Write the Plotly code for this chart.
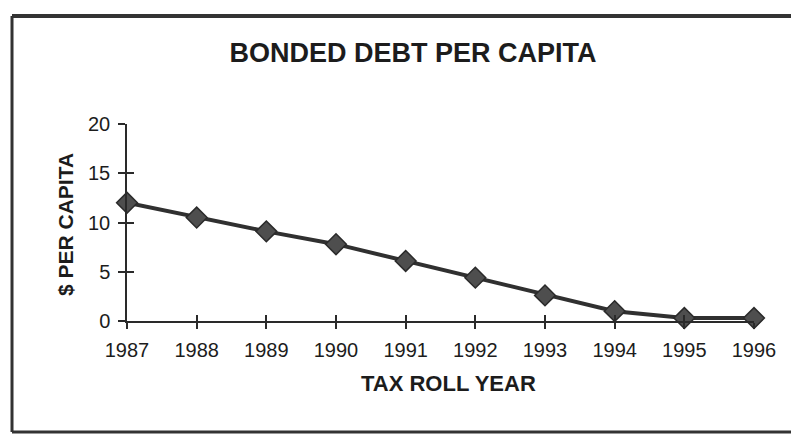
import plotly.graph_objects as go

years = [1987, 1988, 1989, 1990, 1991, 1992, 1993, 1994, 1995, 1996]
debt_per_capita = [12.0, 10.5, 9.1, 7.8, 6.1, 4.4, 2.6, 1.0, 0.3, 0.3]
y_ticks = [0, 5, 10, 15, 20]

title_text = "BONDED DEBT PER CAPITA"
x_title = "TAX ROLL YEAR"
y_title = "$ PER CAPITA"

FONT = "Liberation Sans, Arial, sans-serif"
INK = "#1c1c1c"
AX = "#2a2a2a"

fig = go.Figure()
fig.add_trace(go.Scatter(
    x=years, y=debt_per_capita, mode="lines+markers",
    line=dict(color="#303030", width=4),
    marker=dict(symbol="diamond", size=16, color="#4e4e4e",
                line=dict(color="#2a2a2a", width=1.5)),
    cliponaxis=False, showlegend=False,
))
# invisible trace so that the overlay axes (inner half of crossing ticks) are drawn
fig.add_trace(go.Scatter(
    x=[years[0]], y=[y_ticks[0]], xaxis="x2", yaxis="y2", mode="markers",
    marker=dict(opacity=0), hoverinfo="skip", showlegend=False,
))

common_x = dict(range=[1987, 1996], tickmode="array", tickvals=years,
                showgrid=False, zeroline=False)
common_y = dict(range=[0, 20], tickmode="array", tickvals=y_ticks,
                showgrid=False, zeroline=False)

fig.update_layout(
    width=799, height=436,
    margin=dict(l=119, r=53, t=116, b=123),
    paper_bgcolor="white", plot_bgcolor="white",
    font=dict(family=FONT, color=INK),
    title=dict(text="<b>" + title_text + "</b>", x=0.507, xanchor="center",
               y=0.897, yanchor="middle", yref="container",
               font=dict(size=27, family=FONT, color=INK)),
    xaxis=dict(
        **common_x,
        ticktext=[str(y) for y in years],
        showline=True, linecolor=AX, linewidth=1.5,
        ticks="outside", ticklen=6, tickwidth=1.5, tickcolor=AX,
        ticklabelstandoff=4,
        tickfont=dict(size=20, family=FONT, color=INK),
    ),
    xaxis2=dict(
        **common_x, overlaying="x", anchor="y2", side="bottom",
        showticklabels=False, showline=False,
        ticks="inside", ticklen=6, tickwidth=1.5, tickcolor=AX,
    ),
    yaxis=dict(
        **common_y,
        showline=True, linecolor=AX, linewidth=1.5,
        ticks="outside", ticklen=7, tickwidth=1.5, tickcolor=AX,
        ticklabelstandoff=4,
        tickfont=dict(size=20, family=FONT, color=INK),
    ),
    yaxis2=dict(
        **common_y, overlaying="y", anchor="x2", side="left",
        showticklabels=False, showline=False,
        ticks="inside", ticklen=7, tickwidth=1.5, tickcolor=AX,
    ),
    annotations=[
        dict(text="<b>" + x_title + "</b>", xref="paper", yref="paper",
             x=0.513, y=-0.317, xanchor="center", yanchor="middle",
             showarrow=False, font=dict(size=22, family=FONT, color=INK)),
        dict(text="<b>" + y_title + "</b>", xref="paper", yref="paper",
             x=-0.099, y=0.492, xanchor="center", yanchor="middle",
             textangle=-90, showarrow=False,
             font=dict(size=21, family=FONT, color=INK)),
    ],
)

# outer frame of the scanned chart: left, top and bottom edges only
FL, FR, FB, FT = -0.1834, 1.2, -0.563, 1.548
frame = dict(type="line", xref="paper", yref="paper", layer="below")
fig.add_shape(**frame, x0=FL, x1=FL, y0=FB, y1=FT,
              line=dict(color="#333333", width=3))
fig.add_shape(**frame, x0=FL, x1=FR, y0=FT, y1=FT,
              line=dict(color="#333333", width=4))
fig.add_shape(**frame, x0=FL, x1=FR, y0=FB, y1=FB,
              line=dict(color="#333333", width=3))

fig.write_html("out.html")
